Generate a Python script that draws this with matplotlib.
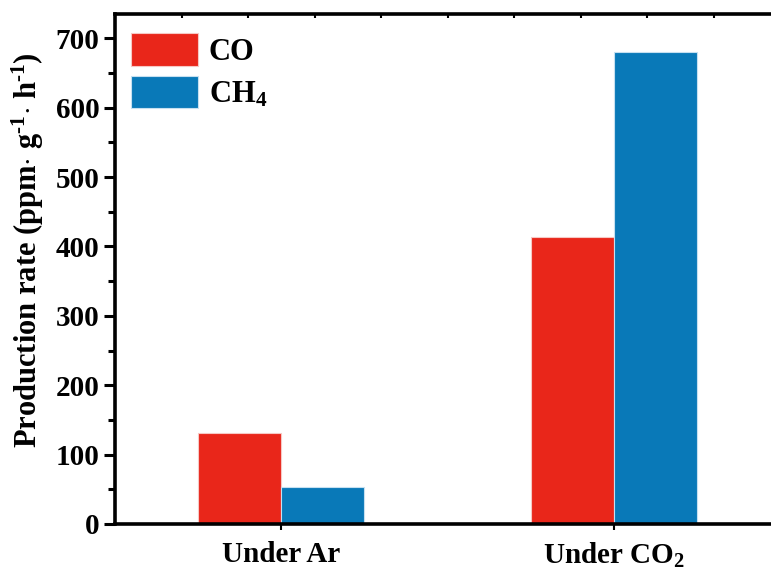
import numpy as np
import matplotlib
matplotlib.use("Agg")
import matplotlib.pyplot as plt

plt.rcParams['font.family'] = ['Liberation Serif', 'DejaVu Serif']
plt.rcParams['font.weight'] = 'bold'
plt.rcParams['mathtext.fontset'] = 'custom'
plt.rcParams['mathtext.rm'] = 'Liberation Serif:bold'
plt.rcParams['mathtext.bf'] = 'Liberation Serif:bold'
plt.rcParams['mathtext.it'] = 'Liberation Serif:bold'

# data
categories = ['Under Ar', 'Under CO$_2$']
co_rate = [131, 413]
ch4_rate = [54, 680]
series_names = ['CO', 'CH$_4$']

red = '#E9261A'
blue = '#0979B8'

fig = plt.figure(figsize=(7.71, 5.69), dpi=100)
ax = fig.add_axes([115 / 771, 1 - 524 / 569, (780 - 115) / 771, (524 - 14) / 569])

x = np.arange(len(categories))
w = 0.25
ax.bar(x - w / 2, co_rate, w, color=red, edgecolor='#f6c8c4', linewidth=0.8, label=series_names[0])
ax.bar(x + w / 2, ch4_rate, w, color=blue, edgecolor='#c6e0f0', linewidth=0.8, label=series_names[1])

ax.set_xlim(-0.5, 1.5)
ax.set_ylim(0, 735)
ax.set_xticks(x)
ax.set_xticklabels(categories, fontsize=21, fontweight='bold')
ax.set_yticks(np.arange(0, 701, 100))
ax.set_yticks(np.arange(50, 701, 100), minor=True)
ax.tick_params(axis='y', which='major', direction='out', length=8, width=2.2, labelsize=21, pad=3)
ax.tick_params(axis='y', which='minor', direction='out', length=5, width=2.2)
ax.tick_params(axis='x', which='major', direction='out', length=4, width=1.5, pad=8)
for lab in ax.get_yticklabels():
    lab.set_fontweight('bold')

for s in ax.spines.values():
    s.set_linewidth(2.6)

# top ticks
top = ax.secondary_xaxis('top')
top.set_xticks(np.arange(-0.3, 1.6, 0.2))
top.set_xticklabels([])
top.tick_params(direction='in', length=3, width=1.5)

ax.set_ylabel('Production rate (ppm$\\cdot$ g$^{\\text{-1}}$$\\cdot$ h$^{\\text{-1}}$)',
              fontsize=22, fontweight='bold')
ax.yaxis.set_label_coords(-0.104, 0.537)

leg = ax.legend(loc='upper left', bbox_to_anchor=(0.024, 0.962), frameon=False,
                handlelength=2.2, handleheight=1.25, handletextpad=0.35, labelspacing=0.3,
                borderaxespad=0, borderpad=0, prop={'weight': 'bold', 'size': 22})

fig.savefig('out.png', dpi=100)
